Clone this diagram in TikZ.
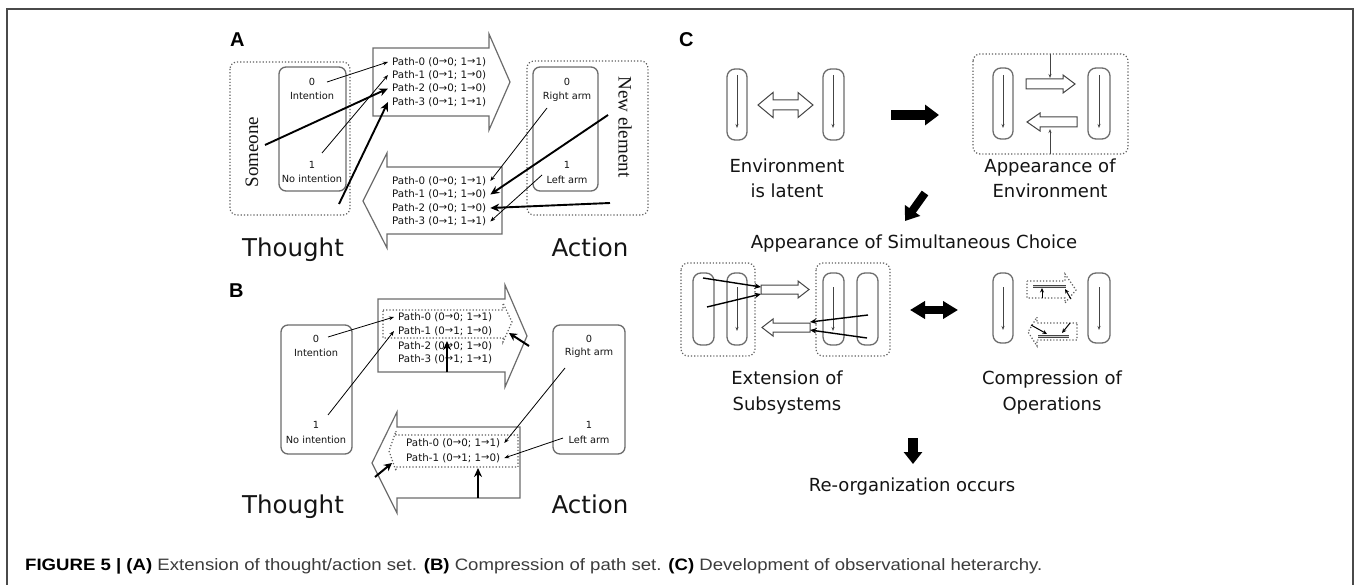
\documentclass[tikz,border=0pt]{standalone}
\usepackage{fontspec}
\usepackage{graphicx}
\setmainfont{DejaVu Sans}
\newfontfamily\serifx{Liberation Serif}
\newfontfamily\capfont{Liberation Sans}
\newcommand{\rarr}{{\fontsize{10}{11}\selectfont\raisebox{0.3pt}{→}}}
\usetikzlibrary{arrows.meta}
\definecolor{linegray}{HTML}{6C6C6C}
\definecolor{dotgray}{HTML}{5E5E5E}
\definecolor{innergray}{HTML}{444444}
\definecolor{framegray}{HTML}{4A4A4A}
\definecolor{captxt}{HTML}{3C3C3C}
\definecolor{txt}{HTML}{141414}
\tikzset{
  outl/.style={draw=linegray, line width=1.3pt},
  solidbox/.style={outl, rounded corners=7pt},
  dotbox/.style={draw=dotgray, dotted, line width=1.2pt, rounded corners=7pt},
  pill/.style={outl, rounded corners=8pt},
  bigarrow/.style={draw=linegray, line width=1.2pt, fill=white, line join=miter},
  dotarrow/.style={draw=dotgray, dotted, line width=1.2pt},
  thinarr/.style={-{Stealth[length=5pt,width=3.8pt]}, line width=0.8pt},
  thickarr/.style={-{Stealth[length=9pt,width=8pt]}, line width=1.9pt},
  midarr/.style={-{Stealth[length=6.5pt,width=5.5pt]}, line width=1.4pt},
  shortarr/.style={-{Stealth[length=8pt,width=8pt]}, line width=2pt},
  innerarr/.style={-{Stealth[length=4pt,width=3pt]}, line width=0.9pt, draw=innergray},
  pathtxt/.style={font=\fontsize{10.3}{12}\selectfont, text=txt, inner xsep=4pt, inner ysep=0pt},
  lbl/.style={font=\fontsize{9.8}{11}\selectfont, text=txt, inner sep=0pt},
  bigtxt/.style={font=\fontsize{24.5}{27}\selectfont, text=txt, anchor=base, inner sep=0pt},
  stagetxt/.style={font=\fontsize{18}{22}\selectfont, text=txt, anchor=base, inner sep=0pt},
  panel/.style={font=\capfont\bfseries\fontsize{20}{22}\selectfont, anchor=base west, inner sep=0pt},
  sidetxt/.style={font=\serifx\fontsize{19}{22}\selectfont, text=txt, inner sep=0pt},
  fatarr/.style={line width=10pt, -{Triangle[length=14pt,width=20pt]}},
  opena/.style={draw=innergray, line width=1pt, fill=white, line join=miter},
  bar/.style={draw=innergray, line width=0.8pt, double=gray!40, double distance=0.9pt},
}
\begin{document}
\begin{tikzpicture}[x=1pt,y=-1pt]
\useasboundingbox (0,0) rectangle (1356,585);
\fill[white] (0,0) rectangle (1356,585);
\draw[framegray, line width=1.4pt] (7,586) -- (7,9) -- (1353,9) -- (1353,586);

% ---------------- Panel A ----------------
\node[panel] (labA) at (230,47) {A};
\draw[dotbox] (230,62) rectangle (350,215);
\draw[solidbox] (279,67) rectangle (346,191);
\node[lbl] (t0) at (312,82) {0};
\node[lbl] (tint) at (312,96) {Intention};
\node[lbl] (t1) at (312,165) {1};
\node[lbl] (tnoi) at (312,179) {No intention};
\node[sidetxt, rotate=90] (someone) at (252,152) {Someone};

\draw[dotbox] (527,61) rectangle (648,215);
\draw[solidbox] (533,67) rectangle (598,191);
\node[lbl] (a0) at (567,82) {0};
\node[lbl] (aright) at (567,97) {Right arm};
\node[lbl] (a1) at (567,165) {1};
\node[lbl] (aleft) at (567,180) {Left arm};
\node[sidetxt, rotate=-90] (newel) at (625,127) {New element};

\draw[bigarrow] (373,48) -- (489,48) -- (489,34) -- (510,82) -- (489,130) -- (489,116) -- (373,116) -- cycle;
\draw[bigarrow] (502,167) -- (387,167) -- (387,153) -- (363,201) -- (387,248) -- (387,234) -- (502,234) -- cycle;

\node[pathtxt, anchor=west] (pa0) at (388,62) {Path-0 (0\rarr0; 1\rarr1)};
\node[pathtxt, anchor=west] (pa1) at (388,75) {Path-1 (0\rarr1; 1\rarr0)};
\node[pathtxt, anchor=west] (pa2) at (388,88.5) {Path-2 (0\rarr0; 1\rarr0)};
\node[pathtxt, anchor=west] (pa3) at (388,102) {Path-3 (0\rarr1; 1\rarr1)};
\node[pathtxt, anchor=west] (pb0) at (388,181) {Path-0 (0\rarr0; 1\rarr1)};
\node[pathtxt, anchor=west] (pb1) at (388,194.5) {Path-1 (0\rarr1; 1\rarr0)};
\node[pathtxt, anchor=west] (pb2) at (388,208) {Path-2 (0\rarr0; 1\rarr0)};
\node[pathtxt, anchor=west] (pb3) at (388,221.5) {Path-3 (0\rarr1; 1\rarr1)};

\coordinate (sa0) at (327,82);
\coordinate (sa1) at (322,153);
\coordinate (sa2) at (265,145);
\coordinate (sa3) at (339,204);
\coordinate (sb0) at (547,108);
\coordinate (sb1) at (608,115);
\coordinate (sb2) at (610,203);
\coordinate (sb3) at (542,175);
\draw[thinarr] (sa0) -- (pa0.west);
\draw[thinarr] (sa1) -- (pa1.west);
\draw[thickarr] (sa2) -- (pa2.west);
\draw[thickarr] (sa3) -- (pa3.west);
\draw[thinarr] (sb0) -- (pb0.east);
\draw[thickarr] (sb1) -- (pb1.east);
\draw[thickarr] (sb2) -- (pb2.east);
\draw[thinarr] (sb3) -- (pb3.east);

\node[bigtxt] (thA) at (293,257) {Thought};
\node[bigtxt] (acA) at (590,257) {Action};

% ---------------- Panel B ----------------
\node[panel] (labB) at (229,297) {B};
\draw[solidbox] (281,325) rectangle (352,454);
\node[lbl] (u0) at (316,339) {0};
\node[lbl] (uint) at (316,353) {Intention};
\node[lbl] (u1) at (316,425) {1};
\node[lbl] (unoi) at (316,440) {No intention};
\draw[solidbox] (553,325) rectangle (625,454);
\node[lbl] (v0) at (589,339) {0};
\node[lbl] (vright) at (589,353) {Right arm};
\node[lbl] (v1) at (589,425) {1};
\node[lbl] (vleft) at (589,440) {Left arm};

\draw[bigarrow] (378,299) -- (505,299) -- (505,285) -- (527,336) -- (505,387) -- (505,372) -- (378,372) -- cycle;
\draw[dotarrow] (383,310) -- (503,310) -- (503,303) -- (512,322) -- (503,342) -- (503,338) -- (383,338) -- cycle;
\node[pathtxt, anchor=west] (qa0) at (394,317) {Path-0 (0\rarr0; 1\rarr1)};
\node[pathtxt, anchor=west] (qa1) at (394,331) {Path-1 (0\rarr1; 1\rarr0)};
\node[pathtxt, anchor=west] (qa2) at (394,346) {Path-2 (0\rarr0; 1\rarr0)};
\node[pathtxt, anchor=west] (qa3) at (394,359) {Path-3 (0\rarr1; 1\rarr1)};

\draw[bigarrow] (520,427) -- (397,427) -- (397,412) -- (372,463) -- (397,513) -- (397,498) -- (520,498) -- cycle;
\draw[dotarrow] (518,435) -- (396,435) -- (396,431) -- (389,451) -- (396,471) -- (396,467) -- (518,467) -- cycle;
\node[pathtxt, anchor=west] (qb0) at (402,443) {Path-0 (0\rarr0; 1\rarr1)};
\node[pathtxt, anchor=west] (qb1) at (402,458) {Path-1 (0\rarr1; 1\rarr0)};

\coordinate (su0) at (328,337);
\coordinate (su1) at (328,415);
\coordinate (sv0) at (565,368);
\coordinate (sv1) at (563,438);
\draw[thinarr] (su0) -- (qa0.west);
\draw[thinarr] (su1) -- (qa1.west);
\draw[thinarr] (sv0) -- (qb0.east);
\draw[thinarr] (sv1) -- (qb1.east);

\coordinate (cu1) at (447,372);  \coordinate (cu1t) at (447,341);
\coordinate (cu2) at (529,346);  \coordinate (cu2t) at (509,333);
\coordinate (cl1) at (478,498);  \coordinate (cl1t) at (478,468);
\coordinate (cl2) at (375,477);  \coordinate (cl2t) at (392,463);
\draw[thickarr] (cu1) -- (cu1t);
\draw[shortarr] (cu2) -- (cu2t);
\draw[thickarr] (cl1) -- (cl1t);
\draw[shortarr] (cl2) -- (cl2t);

\node[bigtxt] (thB) at (293,513) {Thought};
\node[bigtxt] (acB) at (590,513) {Action};

% ---------------- Panel C ----------------
\node[panel] (labC) at (679,47) {C};

% environment is latent
\draw[pill] (727,69) rectangle (747,140);
\draw[pill] (823,69) rectangle (844,140);
\coordinate (l1s) at (737,75); \coordinate (l1e) at (737,128);
\coordinate (l2s) at (833,75); \coordinate (l2e) at (833,128);
\draw[innerarr] (l1s) -- (l1e);
\draw[innerarr] (l2s) -- (l2e);
\draw[opena] (758,105) -- (773,92.5) -- (773,100) -- (798,100) -- (798,92.5) -- (813,105) -- (798,117.5) -- (798,110) -- (773,110) -- (773,117.5) -- cycle;
\node[stagetxt] (el1) at (787,173) {Environment};
\node[stagetxt] (el2) at (787,198) {is latent};

\coordinate (f1s) at (891,115); \coordinate (f1e) at (939,115);
\draw[fatarr] (f1s) -- (f1e);

% appearance of environment
\draw[dotbox] (973,54) rectangle (1128,154);
\draw[pill] (993,68) rectangle (1013,139);
\draw[pill] (1088,68) rectangle (1110,139);
\coordinate (e1s) at (1003,75); \coordinate (e1e) at (1003,128);
\coordinate (e2s) at (1099,75); \coordinate (e2e) at (1099,128);
\draw[innerarr] (e1s) -- (e1e);
\draw[innerarr] (e2s) -- (e2e);
\draw[opena] (1026,79) -- (1063,79) -- (1063,75) -- (1075,84) -- (1063,93) -- (1063,89) -- (1026,89) -- cycle;
\draw[opena] (1077,117) -- (1040,117) -- (1040,113) -- (1027,122) -- (1040,131) -- (1040,127) -- (1077,127) -- cycle;
\coordinate (et1) at (1050,54); \coordinate (et1e) at (1050,78);
\coordinate (et2) at (1050,154); \coordinate (et2e) at (1050,129);
\draw[innerarr] (et1) -- (et1e);
\draw[innerarr] (et2) -- (et2e);
\node[stagetxt] (ae1) at (1050,173) {Appearance of};
\node[stagetxt] (ae2) at (1050,198) {Environment};

\coordinate (f2s) at (925,193); \coordinate (f2e) at (905,221);
\draw[line width=8pt, -{Triangle[length=13pt,width=18pt]}] (f2s) -- (f2e);

\node[stagetxt] (simul) at (914,248) {Appearance of Simultaneous Choice};

% extension of subsystems
\draw[dotbox] (681,263) rectangle (755,356);
\draw[pill] (693,273) rectangle (714,345);
\draw[pill] (727,273) rectangle (747,345);
\coordinate (x1s) at (737,287); \coordinate (x1e) at (737,331);
\draw[innerarr] (x1s) -- (x1e);
\draw[dotbox] (816,263) rectangle (890,356);
\draw[pill] (823,273) rectangle (844,345);
\draw[pill] (857,273) rectangle (878,345);
\coordinate (x2s) at (833,287); \coordinate (x2e) at (833,331);
\draw[innerarr] (x2s) -- (x2e);
\draw[opena] (761,285) -- (798,285) -- (798,281) -- (809,289.5) -- (798,298) -- (798,294) -- (761,294) -- cycle;
\draw[opena] (810,323) -- (773,323) -- (773,319) -- (762,327.5) -- (773,336) -- (773,332) -- (810,332) -- cycle;
\coordinate (xa1) at (703,278); \coordinate (xa1e) at (761,287);
\coordinate (xa2) at (707,307); \coordinate (xa2e) at (761,294);
\coordinate (xb1) at (868,315); \coordinate (xb1e) at (810,322);
\coordinate (xb2) at (867,338); \coordinate (xb2e) at (810,330);
\draw[midarr] (xa1) -- (xa1e);
\draw[midarr] (xa2) -- (xa2e);
\draw[midarr] (xb1) -- (xb1e);
\draw[midarr] (xb2) -- (xb2e);
\node[stagetxt] (ex1) at (787,384) {Extension of};
\node[stagetxt] (ex2) at (787,410) {Subsystems};

\coordinate (f3s) at (910,310); \coordinate (f3e) at (958,310);
\draw[line width=8pt, {Triangle[length=15pt,width=17pt]}-{Triangle[length=15pt,width=17pt]}] (f3s) -- (f3e);

% compression of operations
\draw[pill] (993,273) rectangle (1013,343);
\draw[pill] (1088,273) rectangle (1110,343);
\coordinate (c1s) at (1003,287); \coordinate (c1e) at (1003,330);
\coordinate (c2s) at (1099,287); \coordinate (c2e) at (1099,330);
\draw[innerarr] (c1s) -- (c1e);
\draw[innerarr] (c2s) -- (c2e);
\draw[dotarrow] (1027,281) -- (1065,281) -- (1065,274) -- (1076,290) -- (1065,303) -- (1065,298) -- (1027,298) -- cycle;
\draw[dotarrow] (1077,323) -- (1037,323) -- (1037,317) -- (1028,332) -- (1037,346) -- (1037,340) -- (1077,340) -- cycle;
\coordinate (b1s) at (1033,286.5); \coordinate (b1e) at (1066,286.5);
\coordinate (b2s) at (1038,336.5); \coordinate (b2e) at (1069,336.5);
\draw[bar] (b1s) -- (b1e);
\draw[bar] (b2s) -- (b2e);
\coordinate (k1) at (1042,298); \coordinate (k1e) at (1042,288);
\coordinate (k2) at (1071,299); \coordinate (k2e) at (1065,289);
\coordinate (k3) at (1031,325); \coordinate (k3e) at (1047,334);
\coordinate (k4) at (1070,323); \coordinate (k4e) at (1062,333);
\draw[-{Stealth[length=4.5pt,width=4pt]}, line width=1pt] (k1) -- (k1e);
\draw[-{Stealth[length=4.5pt,width=4pt]}, line width=1pt] (k2) -- (k2e);
\draw[-{Stealth[length=4.5pt,width=4pt]}, line width=1pt] (k3) -- (k3e);
\draw[-{Stealth[length=4.5pt,width=4pt]}, line width=1pt] (k4) -- (k4e);
\node[stagetxt] (co1) at (1052,384) {Compression of};
\node[stagetxt] (co2) at (1052,410) {Operations};

\coordinate (f4s) at (913,438); \coordinate (f4e) at (913,464);
\draw[line width=10pt, -{Triangle[length=12pt,width=18pt]}] (f4s) -- (f4e);
\node[stagetxt] (reorg) at (912,491) {Re-organization occurs};

% ---------------- caption ----------------
\node[anchor=base west, inner sep=0pt, font=\capfont\fontsize{16.5}{20}\selectfont] (caption) at (25,570)
  {\resizebox{1017pt}{\height}{\textbf{FIGURE 5 | (A)} \textcolor{captxt}{Extension of thought/action set.} \textbf{(B)} \textcolor{captxt}{Compression of path set.} \textbf{(C)} \textcolor{captxt}{Development of observational heterarchy.}}};
\end{tikzpicture}
\end{document}
